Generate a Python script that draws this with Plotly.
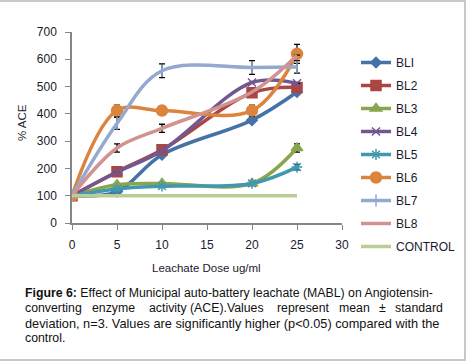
import plotly.graph_objects as go

dose = [0, 5, 10, 20, 25]
names = ["BLI", "BL2", "BL3", "BL4", "BL5", "BL6", "BL7", "BL8"]
bl1 = [100, 115, 250, 377, 480]
bl2 = [100, 188, 268, 477, 497]
bl3 = [100, 140, 145, 145, 275]
bl4 = [100, 186, 265, 515, 512]
bl5 = [100, 125, 135, 145, 205]
bl6 = [100, 412, 412, 412, 620]
bl7 = [100, 365, 558, 570, 572]
bl8 = [100, 275, 347, 480, 615]
err1 = [0, 0, 0, 0, 0]
err2 = [0, 0, 0, 0, 0]
err3 = [0, 0, 0, 0, 15]
err4 = [0, 0, 0, 0, 0]
err5 = [0, 0, 0, 0, 10]
err6 = [0, 20, 15, 20, 35]
err7 = [0, 22, 25, 25, 23]
err8 = [0, 15, 15, 0, 0]
ctrl_dose = [0, 5, 10, 20, 25]
ctrl = [100, 100, 100, 100, 100]

series = [bl1, bl2, bl3, bl4, bl5, bl6, bl7, bl8]
errs = [err1, err2, err3, err4, err5, err6, err7, err8]
colors = ["#4572A7", "#AA4643", "#89A54E", "#71588F", "#4198AF", "#DB843D", "#93A9CF", "#D19392"]
symbols = ["diamond", "square", "triangle-up", "x-thin-open", "asterisk-open", "circle", "line-ns-open", None]
msizes = [8, 10, 10, 8, 9, 11, 9, 0]

W, H = 467, 363
L, R, T, B = 72, 125, 32, 140
PW, PH = W - L - R, H - T - B

def px(x):
    return (x - L) / PW

def py(y):
    return (H - B - y) / PH

fig = go.Figure()
for i, (nm, ys, er, c, sym, ms) in enumerate(zip(names, series, errs, colors, symbols, msizes)):
    marker = dict(color=c, size=ms, line=dict(color=c, width=1.5))
    if sym is None:
        marker = dict(size=0, opacity=0)
    else:
        marker["symbol"] = sym
    fig.add_trace(go.Scatter(
        x=dose, y=ys, name=nm, legendgroup=nm,
        mode="lines+markers" if sym else "lines",
        line=dict(color=c, width=3.5, shape="spline", smoothing=1),
        marker=marker,
        error_y=dict(type="data", array=er, visible=True, color="black", thickness=1.3, width=3),
    ))
fig.add_trace(go.Scatter(
    x=ctrl_dose, y=ctrl, name="CONTROL", legendgroup="CONTROL", mode="lines",
    line=dict(color="#B9CD96", width=3.5),
))

font = "Liberation Sans, Arial, sans-serif"
axcol = "#868686"
txtcol = "#1a1a2e"
fig.update_xaxes(range=[0, 30], dtick=5, tick0=0, showline=True, linecolor=axcol, linewidth=1.5,
                 ticks="outside", ticklen=5, tickcolor=axcol, showgrid=False, zeroline=False,
                 ticklabelstandoff=5,
                 tickfont=dict(family=font, size=12, color=txtcol))
fig.update_yaxes(range=[0, 700], dtick=100, showline=True, linecolor=axcol, linewidth=1.5,
                 ticks="outside", ticklen=5, tickcolor=axcol, showgrid=False, zeroline=False,
                 ticklabelstandoff=6,
                 tickfont=dict(family=font, size=12, color=txtcol))

ann = []
ann.append(dict(text="Leachate Dose ug/ml", x=px(206), y=py(268), xref="paper", yref="paper",
                showarrow=False, font=dict(family=font, size=11.5, color=txtcol), xanchor="center", yanchor="middle"))
ann.append(dict(text="% ACE", x=px(22), y=py(123), xref="paper", yref="paper", textangle=-90,
                showarrow=False, font=dict(family=font, size=11.5, color=txtcol), xanchor="center", yanchor="middle"))

cap_font = dict(family=font, size=12.3, color="#111")
ann.append(dict(text="<b>Figure 6:</b> Effect of Municipal auto-battery leachate (MABL) on Angiotensin-",
                x=px(23), y=py(293), xref="paper", yref="paper", showarrow=False, font=cap_font,
                xanchor="left", yanchor="middle"))
line2 = [("converting", 23), ("enzyme", 90), ("activity", 147), ("(ACE).Values", 188),
         ("represent", 275), ("mean", 337), ("±", 377), ("standard", 393)]
for w, xx in line2:
    ann.append(dict(text=w, x=px(xx), y=py(308), xref="paper", yref="paper", showarrow=False,
                    font=cap_font, xanchor="left", yanchor="middle"))
ann.append(dict(text="deviation, n=3. Values are significantly higher (p&lt;0.05) compared with the",
                x=px(23), y=py(323), xref="paper", yref="paper", showarrow=False,
                font=dict(family=font, size=12.75, color="#111"), xanchor="left", yanchor="middle"))
ann.append(dict(text="control.", x=px(23), y=py(338), xref="paper", yref="paper", showarrow=False,
                font=cap_font, xanchor="left", yanchor="middle"))

# frame around the figure
fig.add_shape(type="rect", xref="paper", yref="paper", x0=px(-3), x1=px(465), y0=py(360), y1=py(1),
              line=dict(color="#b8b8b8", width=1.5), fillcolor="rgba(0,0,0,0)", layer="above")

fig.update_layout(
    width=W, height=H, margin=dict(l=L, r=R, t=T, b=B, pad=0, autoexpand=False),
    paper_bgcolor="white", plot_bgcolor="white",
    showlegend=True,
    legend=dict(x=px(356), y=py(48), xanchor="left", yanchor="top", tracegroupgap=4,
                font=dict(family=font, size=12, color=txtcol), bgcolor="rgba(0,0,0,0)",
                itemsizing="trace", itemwidth=30, maxheight=330),
    annotations=ann,
)
fig.write_html("out.html", config={"displayModeBar": False},
               post_script="document.body.style.margin='0';document.body.style.padding='0';")
